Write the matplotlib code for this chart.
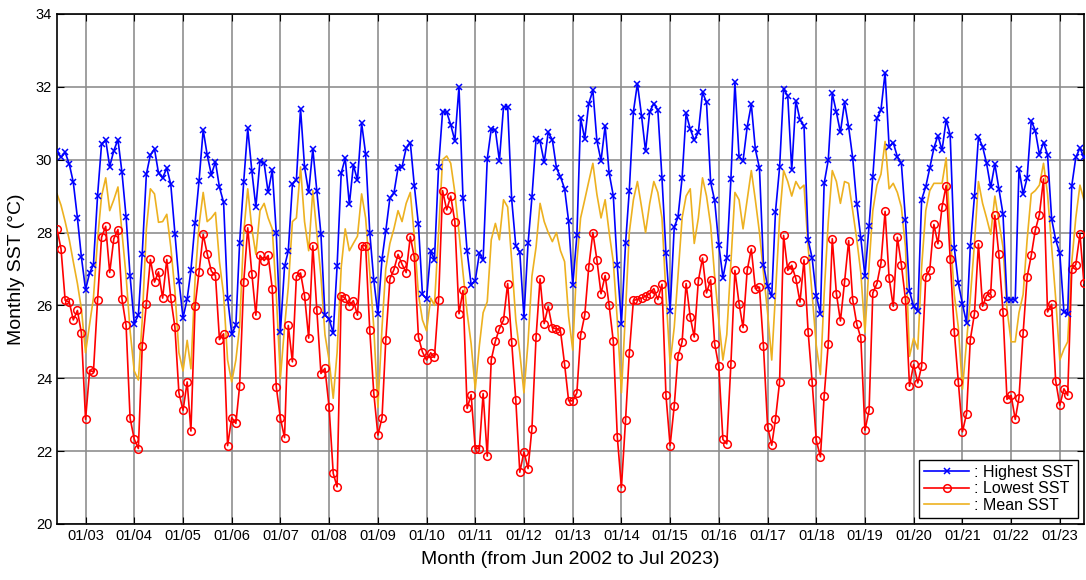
import numpy as np
import pandas as pd
import matplotlib
matplotlib.use("Agg")
import matplotlib.pyplot as plt
import matplotlib.dates as mdates

# -----------------------------
# Data (monthly SST, Jun 2002 - Jul 2023)
# -----------------------------
months = pd.date_range("2002-06-01", "2023-07-01", freq="MS")

highest_sst = [
    30.25, 30.06, 30.20, 29.88, 29.38, 28.40, 27.32, 26.43, 26.90, 27.11, 29.01, 30.43,
    30.54, 29.81, 30.25, 30.55, 29.65, 28.42, 26.80, 25.50, 25.73, 27.42, 29.60, 30.13,
    30.29, 29.63, 29.50, 29.77, 29.32, 27.96, 26.68, 25.66, 26.18, 26.96, 28.26, 29.42,
    30.82, 30.13, 29.59, 29.94, 29.24, 28.83, 26.21, 25.22, 25.45, 27.70, 29.40, 30.86,
    29.68, 28.70, 29.97, 29.90, 29.10, 29.72, 27.98, 25.27, 27.07, 27.49, 29.32, 29.45,
    31.40, 29.80, 29.10, 30.30, 29.15, 27.95, 25.73, 25.63, 25.24, 27.07, 29.63, 30.04,
    28.77, 29.85, 29.44, 31.00, 30.16, 28.00, 26.70, 25.75, 27.28, 28.04, 28.95, 29.08,
    29.77, 29.80, 30.32, 30.47, 29.29, 28.22, 26.30, 26.18, 27.49, 27.25, 29.80, 31.32,
    31.30, 30.96, 30.52, 32.00, 28.95, 27.49, 26.57, 26.68, 27.43, 27.25, 30.02, 30.84,
    30.81, 29.97, 31.45, 31.45, 28.92, 27.63, 27.46, 25.68, 27.70, 28.97, 30.57, 30.50,
    29.93, 30.75, 30.55, 29.77, 29.53, 29.20, 28.31, 26.55, 27.92, 31.14, 30.57, 31.54,
    31.90, 30.52, 29.97, 30.93, 29.63, 29.01, 27.10, 25.50, 27.70, 29.15, 31.32, 32.09,
    31.20, 30.23, 31.32, 31.54, 31.36, 29.50, 27.43, 25.85, 28.15, 28.42, 29.50, 31.27,
    30.84, 30.54, 30.75, 31.85, 31.57, 29.38, 28.88, 27.67, 26.76, 27.30, 29.47, 32.12,
    30.08, 29.97, 30.90, 31.52, 30.29, 29.77, 27.12, 26.52, 26.25, 28.56, 29.79, 31.94,
    31.75, 29.72, 31.62, 31.09, 30.93, 27.80, 27.30, 26.27, 25.77, 29.35, 29.99, 31.82,
    31.30, 30.75, 31.57, 30.89, 30.05, 28.77, 27.85, 26.80, 28.19, 29.53, 31.14, 31.36,
    32.39, 30.36, 30.47, 30.08, 29.90, 28.35, 26.39, 25.97, 25.84, 28.90, 29.26, 29.77,
    30.32, 30.66, 30.26, 31.09, 30.68, 27.58, 26.61, 26.04, 25.52, 27.62, 28.99, 30.62,
    30.36, 29.90, 29.24, 29.88, 29.20, 28.51, 26.16, 26.16, 26.16, 29.74, 29.06, 29.50,
    31.07, 30.80, 30.14, 30.47, 30.14, 28.37, 27.80, 27.43, 25.82, 25.77, 29.29, 30.06,
    30.32, 30.06,
]

lowest_sst = [
    28.10, 27.55, 26.14, 26.09, 25.60, 25.86, 25.24, 22.87, 24.22, 24.17, 26.14, 27.87,
    28.17, 26.90, 27.83, 28.08, 26.18, 25.45, 22.90, 22.33, 22.07, 24.88, 26.05, 27.26,
    26.64, 26.92, 26.20, 27.26, 26.20, 25.40, 23.60, 23.12, 23.90, 22.55, 25.97, 26.92,
    27.95, 27.42, 26.94, 26.82, 25.06, 25.22, 22.15, 22.92, 22.76, 23.78, 26.64, 28.13,
    26.87, 25.73, 27.37, 27.23, 27.37, 26.46, 23.76, 22.90, 22.37, 25.45, 24.45, 26.80,
    26.89, 26.27, 25.10, 27.64, 25.88, 24.13, 24.27, 23.21, 21.39, 21.02, 26.27, 26.20,
    25.99, 26.13, 25.73, 27.64, 27.64, 25.32, 23.60, 22.44, 22.92, 25.04, 26.73, 26.98,
    27.40, 27.13, 26.90, 27.89, 27.32, 25.13, 24.72, 24.50, 24.70, 24.57, 26.16, 29.15,
    28.62, 29.00, 28.30, 25.77, 26.41, 23.17, 23.55, 22.07, 22.07, 23.58, 21.86, 24.51,
    25.02, 25.36, 25.60, 26.60, 25.00, 23.40, 21.42, 21.98, 21.52, 22.62, 25.13, 26.73,
    25.50, 25.97, 25.38, 25.36, 25.30, 24.38, 23.38, 23.38, 23.60, 25.18, 25.73, 27.05,
    28.00, 27.25, 26.32, 26.82, 26.00, 25.02, 22.40, 21.00, 22.85, 24.68, 26.14, 26.16,
    26.20, 26.25, 26.32, 26.46, 26.16, 26.58, 23.53, 22.15, 23.24, 24.60, 25.00, 26.60,
    25.68, 25.13, 26.68, 27.30, 26.34, 26.70, 24.95, 24.33, 22.32, 22.20, 24.40, 26.96,
    26.05, 25.39, 26.96, 27.55, 26.46, 26.50, 24.88, 22.67, 22.16, 22.87, 23.90, 27.92,
    26.96, 27.10, 26.73, 26.09, 27.25, 25.27, 23.90, 22.30, 21.84, 23.50, 24.95, 27.83,
    26.32, 25.57, 26.64, 27.78, 26.16, 25.48, 25.11, 22.57, 23.12, 26.34, 26.60, 27.16,
    28.58, 26.76, 25.97, 27.87, 27.12, 26.16, 23.78, 24.38, 23.87, 24.33, 26.78, 26.98,
    28.22, 27.69, 28.70, 29.29, 27.28, 25.27, 23.90, 22.53, 23.03, 25.06, 25.77, 27.69,
    25.97, 26.27, 26.34, 28.47, 27.40, 25.82, 23.42, 23.53, 22.87, 23.47, 25.24, 26.78,
    27.37, 28.06, 28.49, 29.47, 25.82, 26.03, 23.93, 23.26, 23.71, 23.53, 27.00, 27.12,
    27.96, 26.61,
]

mean_sst = [
    29.06, 28.75, 28.30, 27.80, 27.20, 26.60, 25.90, 24.70, 25.50, 26.20, 27.80, 29.00,
    29.50, 28.60, 28.90, 29.25, 28.00, 26.80, 25.30, 24.20, 23.95, 25.60, 28.10, 29.20,
    29.06, 28.28, 28.30, 28.50, 27.60, 26.40, 24.70, 24.20, 25.04, 24.26, 26.70, 28.20,
    29.10, 28.30, 28.40, 28.55, 27.20, 26.30, 24.50, 23.90, 24.50, 25.40, 28.00, 29.20,
    28.10, 27.40, 28.60, 28.80, 28.40, 28.10, 26.30, 24.00, 25.40, 26.50, 28.30, 28.40,
    29.80, 28.30, 27.50, 29.15, 28.00, 26.80, 25.20, 24.50, 23.45, 24.70, 27.05, 28.10,
    27.50, 27.70, 27.90, 29.06, 28.40, 26.90, 25.40, 23.20, 25.40, 27.00, 27.70, 28.10,
    28.60, 28.30, 28.80, 29.10, 27.90, 26.30, 25.60, 25.30, 26.20, 26.00, 28.00, 30.00,
    30.10, 29.90, 29.10, 28.00, 26.90, 25.80, 24.95, 23.70, 24.90, 25.80, 26.10, 27.80,
    28.25, 27.80, 28.90, 28.70, 27.25, 25.60, 24.70, 23.60, 25.00, 26.80, 27.60, 28.80,
    28.30, 28.00, 27.75, 28.00, 27.50, 27.20, 25.70, 24.77, 27.20, 28.40, 28.90, 29.40,
    29.90, 29.05, 28.40, 28.90, 28.00, 27.20, 25.60, 23.60, 25.85, 28.00, 28.90, 29.40,
    28.70, 28.00, 28.80, 29.40, 29.10, 28.40, 26.30, 24.40, 25.40, 26.80, 28.40, 29.00,
    29.20, 27.70, 28.40, 29.50, 29.00, 28.20, 26.80, 25.60, 24.50, 25.20, 27.20, 29.10,
    28.90, 28.10, 28.90, 29.70, 28.90, 28.00, 26.90, 25.80, 24.50, 26.30, 28.40, 29.70,
    29.40, 29.00, 29.40, 29.20, 29.30, 27.60, 26.30, 24.90, 24.10, 26.30, 28.30, 29.70,
    29.40, 28.80, 29.40, 29.35, 28.60, 27.80, 26.90, 25.25, 27.10, 28.60, 29.30, 29.60,
    30.50, 29.20, 29.35, 29.10, 28.70, 27.60, 24.60, 25.10, 24.80, 27.05, 28.60, 29.15,
    29.35, 29.35, 29.35, 30.05, 28.00, 26.30, 25.40, 23.70, 25.00, 26.20, 27.70, 29.40,
    28.80, 28.40, 27.95, 29.00, 28.30, 27.60, 25.90, 25.00, 25.00, 25.80, 26.30, 27.80,
    29.06, 29.15, 29.30, 29.90, 29.06, 27.60, 26.20, 24.50, 24.80, 25.00, 27.20, 28.40,
    29.30, 28.90,
]

year_ticks = pd.date_range("2003-01-01", "2023-01-01", freq="YS")
tick_labels = [d.strftime("%m/%y") for d in year_ticks]

# -----------------------------
# Plot
# -----------------------------
plt.rcParams["font.family"] = ["Liberation Sans", "DejaVu Sans"]

fig = plt.figure(figsize=(10.86, 5.8), dpi=100)
ax = fig.add_axes([0.0525, 0.0966, 0.9456, 0.8794])

ax.plot(months, highest_sst, color="#0000ff", lw=1.2, marker="x", ms=5, mew=1.1,
        label=": Highest SST", zorder=4)
ax.plot(months, lowest_sst, color="#ff0000", lw=1.2, marker="o", ms=5.5, mew=1.1,
        mfc="none", label=": Lowest SST", zorder=3)
ax.plot(months, mean_sst, color="#edb120", lw=1.2, label=": Mean SST", zorder=2)

ax.set_xlim(months[0], months[-1])
ax.set_ylim(20, 34)
ax.set_yticks(np.arange(20, 35, 2))
ax.set_xticks(year_ticks)
ax.set_xticklabels(tick_labels)
ax.tick_params(direction="in", length=5, labelsize=10.5, top=True, right=True,
               labeltop=False, labelright=False)

ax.grid(True, color="#8c8c8c", lw=1.3, alpha=0.9)
ax.set_axisbelow(True)
for sp in ax.spines.values():
    sp.set_linewidth(1.2)

ax.set_xlabel("Month (from Jun 2002 to Jul 2023)", fontsize=14, labelpad=6)
ax.set_ylabel("Monthly SST (°C)", fontsize=14, labelpad=8)

leg = ax.legend(loc="lower right", fontsize=11.5, frameon=True, fancybox=False,
                edgecolor="black", framealpha=1, borderpad=0.3, labelspacing=0.1,
                handlelength=2.8, handletextpad=0.3, borderaxespad=0.4)
leg.get_frame().set_linewidth(1.0)

fig.savefig("out.png", dpi=100)
